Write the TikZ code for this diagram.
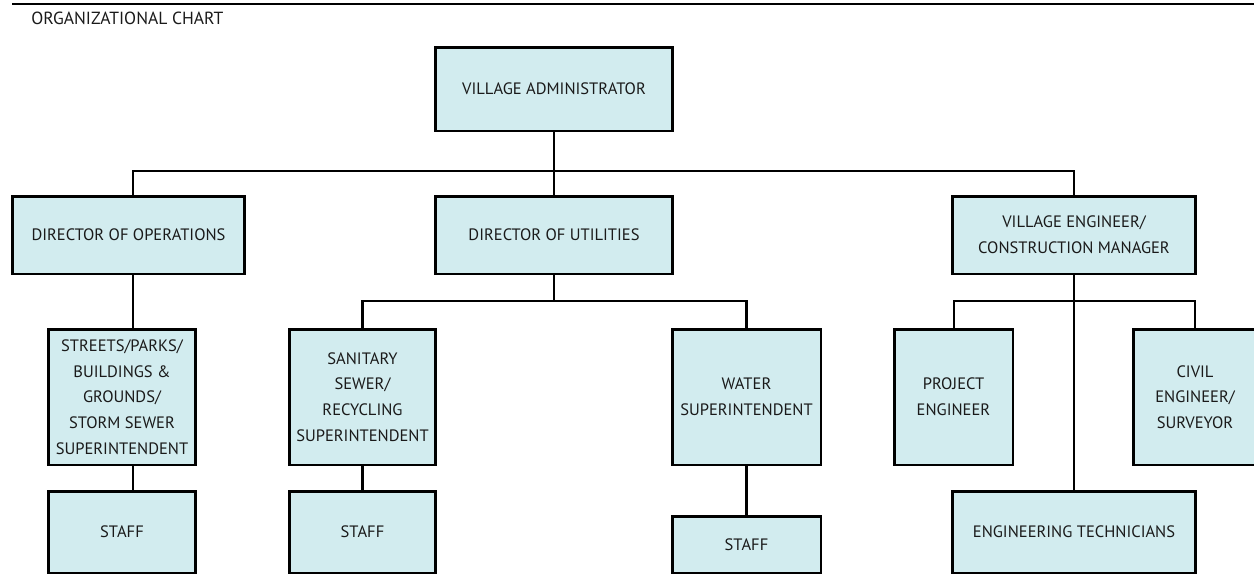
\documentclass[tikz,border=0pt]{standalone}
\usepackage{fontspec}
\setmainfont{PT Sans}
\usetikzlibrary{positioning}
\definecolor{boxfill}{HTML}{D2ECEF}
\definecolor{textgray}{HTML}{1A1A1A}

\begin{document}
\begin{tikzpicture}[x=0.02cm, y=-0.02cm]
% Define node styles
\tikzstyle{box} = [rectangle, draw=black, fill=boxfill, line width=1.7pt, align=center,
  inner sep=1pt, text=textgray, font=\fontsize{9.4pt}{14.6pt}\selectfont]
\tikzstyle{line} = [line width=1.15pt]

\useasboundingbox (0,0) rectangle (1254,575);

% Header
\draw[line width=1.7pt] (12,4) -- (1254,4);
\node[anchor=west, inner sep=0pt, text=textgray, font=\fontsize{10pt}{12pt}\selectfont] (title) at (31,18) {ORGANIZATIONAL CHART};

% Draw nodes
\node[box, minimum width=4.76cm, minimum height=1.68cm] (VA) at (554,89) {VILLAGE ADMINISTRATOR};

\node[box, minimum width=4.66cm, minimum height=1.56cm] (DO) at (128.5,235) {DIRECTOR OF OPERATIONS};
\node[box, minimum width=4.76cm, minimum height=1.56cm] (DU) at (554,235) {DIRECTOR OF UTILITIES};
\node[box, minimum width=4.88cm, minimum height=1.56cm] (VE) at (1074,235) {VILLAGE ENGINEER/\\CONSTRUCTION MANAGER};

\node[box, minimum width=2.96cm, minimum height=2.72cm] (SP) at (122,397) {STREETS/PARKS/\\BUILDINGS \&\\GROUNDS/\\STORM SEWER\\SUPERINTENDENT};
\node[box, minimum width=2.94cm, minimum height=2.72cm] (SA) at (362.5,397) {SANITARY\\SEWER/\\RECYCLING\\SUPERINTENDENT};
\node[box, minimum width=2.98cm, minimum height=2.72cm] (WS) at (746.5,397) {WATER\\SUPERINTENDENT};
\node[box, minimum width=2.38cm, minimum height=2.72cm] (PE) at (953.5,397) {PROJECT\\ENGINEER};
\node[box, minimum width=2.48cm, minimum height=2.72cm] (CE) at (1195,397) {CIVIL\\ENGINEER/\\SURVEYOR};

\node[box, minimum width=2.96cm, minimum height=1.64cm] (ST1) at (122,532) {STAFF};
\node[box, minimum width=2.94cm, minimum height=1.64cm] (ST2) at (362.5,532) {STAFF};
\node[box, minimum width=2.98cm, minimum height=1.14cm] (ST3) at (746.5,544.5) {STAFF};
\node[box, minimum width=4.88cm, minimum height=1.64cm] (ET) at (1074,532) {ENGINEERING TECHNICIANS};

% Junctions
\coordinate (busA) at (554,171);
\coordinate (busB) at (554,301);
\coordinate (busC) at (1074,301);
\coordinate (opsL) at (133,235);

% Draw edges
\draw[line] (VA) -- (busA) -- (DU);
\draw[line] (DO.north -| opsL) |- (busA) -| (VE.north);
\draw[line] (DO.south -| opsL) -- (opsL |- SP.north);
\draw[line] (opsL |- SP.south) -- (opsL |- ST1.north);
\draw[line] (DU) -- (busB);
\draw[line] (SA.north) |- (busB) -| (WS.north);
\draw[line] (SA) -- (ST2);
\draw[line] (WS) -- (ST3);
\draw[line] (VE) -- (ET);
\draw[line] (PE.north) |- (busC) -| (CE.north);
\end{tikzpicture}
\end{document}
